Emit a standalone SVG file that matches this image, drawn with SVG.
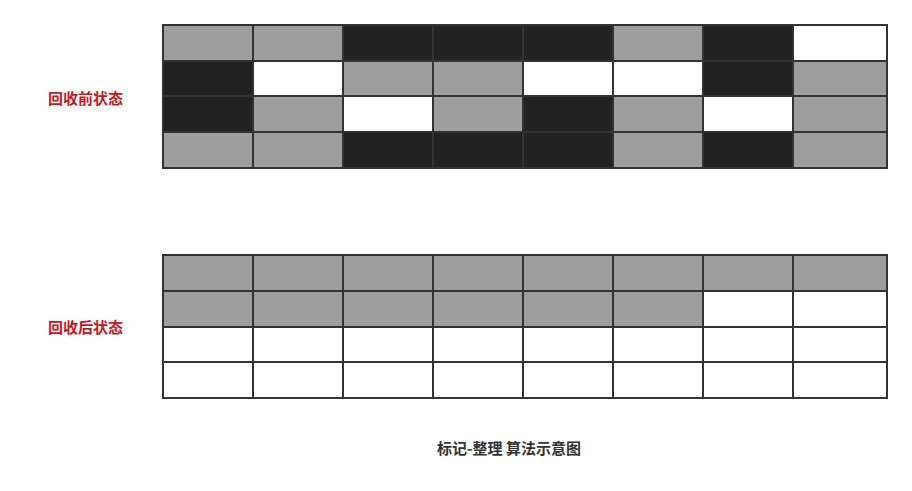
<svg xmlns="http://www.w3.org/2000/svg" width="912" height="491" viewBox="0 0 912 491">
<style>
.g{fill:#9e9e9e}.b{fill:#222222}.w{fill:#ffffff}
.grid{stroke:#333333;stroke-width:2;fill:none}
.lbl{font-family:"Noto Sans CJK SC","Noto Sans",sans-serif;font-size:15px;font-weight:bold;fill:#c8161e}
.ttl{font-family:"Noto Sans CJK SC","Noto Sans",sans-serif;font-size:15px;font-weight:bold;fill:#333333}
</style>
<rect width="912" height="491" fill="#ffffff"/>
<g id="before">
<g id="before-cells">
<rect class="g" x="163" y="25" width="90" height="36"/>
<rect class="g" x="253" y="25" width="90" height="36"/>
<rect class="b" x="343" y="25" width="90" height="36"/>
<rect class="b" x="433" y="25" width="90" height="36"/>
<rect class="b" x="523" y="25" width="90" height="36"/>
<rect class="g" x="613" y="25" width="90" height="36"/>
<rect class="b" x="703" y="25" width="90" height="36"/>
<rect class="w" x="793" y="25" width="94" height="36"/>
<rect class="b" x="163" y="61" width="90" height="35"/>
<rect class="w" x="253" y="61" width="90" height="35"/>
<rect class="g" x="343" y="61" width="90" height="35"/>
<rect class="g" x="433" y="61" width="90" height="35"/>
<rect class="w" x="523" y="61" width="90" height="35"/>
<rect class="w" x="613" y="61" width="90" height="35"/>
<rect class="b" x="703" y="61" width="90" height="35"/>
<rect class="g" x="793" y="61" width="94" height="35"/>
<rect class="b" x="163" y="96" width="90" height="36"/>
<rect class="g" x="253" y="96" width="90" height="36"/>
<rect class="w" x="343" y="96" width="90" height="36"/>
<rect class="g" x="433" y="96" width="90" height="36"/>
<rect class="b" x="523" y="96" width="90" height="36"/>
<rect class="g" x="613" y="96" width="90" height="36"/>
<rect class="w" x="703" y="96" width="90" height="36"/>
<rect class="g" x="793" y="96" width="94" height="36"/>
<rect class="g" x="163" y="132" width="90" height="36"/>
<rect class="g" x="253" y="132" width="90" height="36"/>
<rect class="b" x="343" y="132" width="90" height="36"/>
<rect class="b" x="433" y="132" width="90" height="36"/>
<rect class="b" x="523" y="132" width="90" height="36"/>
<rect class="g" x="613" y="132" width="90" height="36"/>
<rect class="b" x="703" y="132" width="90" height="36"/>
<rect class="g" x="793" y="132" width="94" height="36"/>
</g>
<path class="grid" d="M163 25H887V168H163Z M163 61H887 M163 96H887 M163 132H887 M253 25V168 M343 25V168 M433 25V168 M523 25V168 M613 25V168 M703 25V168 M793 25V168"/>
</g>
<g id="after">
<rect class="g" x="163" y="255" width="724" height="36"/>
<rect class="g" x="163" y="291" width="540" height="36"/>
<path class="grid" d="M163 255H887V398H163Z M163 291H887 M163 327H887 M163 362H887 M253 255V398 M343 255V398 M433 255V398 M523 255V398 M613 255V398 M703 255V398 M793 255V398"/>
</g>
<g id="label-before"><text class="lbl" x="48" y="104">回收前状态</text></g>
<g id="label-after"><text class="lbl" x="48" y="333">回收后状态</text></g>
<g id="title"><text class="ttl" x="509" y="454" text-anchor="middle">标记-整理 算法示意图</text></g>
</svg>
